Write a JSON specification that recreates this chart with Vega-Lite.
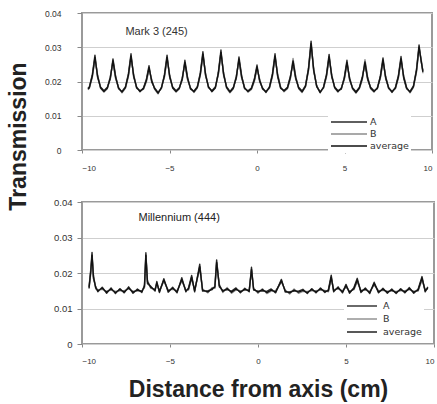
{
  "$schema": "https://vega.github.io/schema/vega-lite/v6.json",
  "config": {
    "font": "Liberation Sans",
    "view": {"stroke": "#9a9a9a", "strokeWidth": 2},
    "axis": {"labelColor": "#333", "tickColor": "#888", "gridColor": "#cfcfcf", "domain": false, "labelOverlap": false}
  },
  "padding": {"left": 5, "top": 8, "right": 2, "bottom": 3},
  "bounds": "flush",
  "spacing": 52,
  "resolve": {"scale": {"color": "independent", "strokeWidth": "independent"}, "legend": {"color": "independent"}},
  "datasets": {
    "mark3": [
      {"x":-9.66,"A":0.0180,"B":0.0176,"average":0.0178},
      {"x":-9.58,"A":0.0184,"B":0.0180,"average":0.0182},
      {"x":-9.41,"A":0.0220,"B":0.0212,"average":0.0216},
      {"x":-9.26,"A":0.0277,"B":0.0263,"average":0.0270},
      {"x":-9.11,"A":0.0212,"B":0.0220,"average":0.0216},
      {"x":-8.94,"A":0.0184,"B":0.0180,"average":0.0182},
      {"x":-8.745,"A":0.0173,"B":0.0169,"average":0.0171},
      {"x":-8.55,"A":0.0183,"B":0.0179,"average":0.0181},
      {"x":-8.38,"A":0.0208,"B":0.0216,"average":0.0212},
      {"x":-8.23,"A":0.0266,"B":0.0254,"average":0.0260},
      {"x":-8.08,"A":0.0216,"B":0.0208,"average":0.0212},
      {"x":-7.91,"A":0.0179,"B":0.0183,"average":0.0181},
      {"x":-7.715,"A":0.0171,"B":0.0167,"average":0.0169},
      {"x":-7.52,"A":0.0184,"B":0.0180,"average":0.0182},
      {"x":-7.35,"A":0.0222,"B":0.0214,"average":0.0218},
      {"x":-7.20,"A":0.0281,"B":0.0267,"average":0.0274},
      {"x":-7.05,"A":0.0214,"B":0.0222,"average":0.0218},
      {"x":-6.88,"A":0.0184,"B":0.0180,"average":0.0182},
      {"x":-6.685,"A":0.0170,"B":0.0174,"average":0.0172},
      {"x":-6.49,"A":0.0181,"B":0.0177,"average":0.0179},
      {"x":-6.32,"A":0.0207,"B":0.0199,"average":0.0203},
      {"x":-6.17,"A":0.0246,"B":0.0234,"average":0.0240},
      {"x":-6.02,"A":0.0199,"B":0.0207,"average":0.0203},
      {"x":-5.85,"A":0.0181,"B":0.0177,"average":0.0179},
      {"x":-5.655,"A":0.0168,"B":0.0164,"average":0.0166},
      {"x":-5.46,"A":0.0180,"B":0.0184,"average":0.0182},
      {"x":-5.29,"A":0.0220,"B":0.0212,"average":0.0216},
      {"x":-5.14,"A":0.0277,"B":0.0263,"average":0.0270},
      {"x":-4.99,"A":0.0212,"B":0.0220,"average":0.0216},
      {"x":-4.82,"A":0.0184,"B":0.0180,"average":0.0182},
      {"x":-4.625,"A":0.0173,"B":0.0169,"average":0.0171},
      {"x":-4.44,"A":0.0182,"B":0.0178,"average":0.0180},
      {"x":-4.27,"A":0.0205,"B":0.0213,"average":0.0209},
      {"x":-4.12,"A":0.0262,"B":0.0248,"average":0.0255},
      {"x":-3.97,"A":0.0213,"B":0.0205,"average":0.0209},
      {"x":-3.80,"A":0.0178,"B":0.0182,"average":0.0180},
      {"x":-3.605,"A":0.0172,"B":0.0168,"average":0.0170},
      {"x":-3.41,"A":0.0185,"B":0.0181,"average":0.0183},
      {"x":-3.24,"A":0.0225,"B":0.0217,"average":0.0221},
      {"x":-3.09,"A":0.0287,"B":0.0273,"average":0.0280},
      {"x":-2.94,"A":0.0217,"B":0.0225,"average":0.0221},
      {"x":-2.77,"A":0.0185,"B":0.0181,"average":0.0183},
      {"x":-2.575,"A":0.0170,"B":0.0174,"average":0.0172},
      {"x":-2.38,"A":0.0181,"B":0.0185,"average":0.0183},
      {"x":-2.21,"A":0.0227,"B":0.0219,"average":0.0223},
      {"x":-2.06,"A":0.0292,"B":0.0278,"average":0.0285},
      {"x":-1.91,"A":0.0219,"B":0.0227,"average":0.0223},
      {"x":-1.74,"A":0.0185,"B":0.0181,"average":0.0183},
      {"x":-1.545,"A":0.0171,"B":0.0167,"average":0.0169},
      {"x":-1.35,"A":0.0183,"B":0.0179,"average":0.0181},
      {"x":-1.18,"A":0.0210,"B":0.0218,"average":0.0214},
      {"x":-1.03,"A":0.0272,"B":0.0258,"average":0.0265},
      {"x":-0.88,"A":0.0218,"B":0.0210,"average":0.0214},
      {"x":-0.71,"A":0.0179,"B":0.0183,"average":0.0181},
      {"x":-0.515,"A":0.0173,"B":0.0169,"average":0.0171},
      {"x":-0.32,"A":0.0181,"B":0.0177,"average":0.0179},
      {"x":-0.15,"A":0.0208,"B":0.0200,"average":0.0204},
      {"x":0.0,"A":0.0248,"B":0.0236,"average":0.0242},
      {"x":0.15,"A":0.0200,"B":0.0208,"average":0.0204},
      {"x":0.32,"A":0.0181,"B":0.0177,"average":0.0179},
      {"x":0.515,"A":0.0168,"B":0.0172,"average":0.0170},
      {"x":0.71,"A":0.0184,"B":0.0180,"average":0.0182},
      {"x":0.88,"A":0.0222,"B":0.0214,"average":0.0218},
      {"x":1.03,"A":0.0281,"B":0.0267,"average":0.0274},
      {"x":1.18,"A":0.0214,"B":0.0222,"average":0.0218},
      {"x":1.35,"A":0.0180,"B":0.0184,"average":0.0182},
      {"x":1.545,"A":0.0174,"B":0.0170,"average":0.0172},
      {"x":1.74,"A":0.0183,"B":0.0179,"average":0.0181},
      {"x":1.91,"A":0.0216,"B":0.0208,"average":0.0212},
      {"x":2.06,"A":0.0253,"B":0.0267,"average":0.0260},
      {"x":2.21,"A":0.0208,"B":0.0216,"average":0.0212},
      {"x":2.38,"A":0.0183,"B":0.0179,"average":0.0181},
      {"x":2.575,"A":0.0172,"B":0.0168,"average":0.0170},
      {"x":2.77,"A":0.0188,"B":0.0184,"average":0.0186},
      {"x":2.94,"A":0.0238,"B":0.0230,"average":0.0234},
      {"x":3.09,"A":0.0318,"B":0.0302,"average":0.0310},
      {"x":3.24,"A":0.0230,"B":0.0238,"average":0.0234},
      {"x":3.41,"A":0.0188,"B":0.0184,"average":0.0186},
      {"x":3.605,"A":0.0167,"B":0.0171,"average":0.0169},
      {"x":3.80,"A":0.0184,"B":0.0180,"average":0.0182},
      {"x":3.97,"A":0.0221,"B":0.0213,"average":0.0217},
      {"x":4.12,"A":0.0279,"B":0.0265,"average":0.0272},
      {"x":4.27,"A":0.0213,"B":0.0221,"average":0.0217},
      {"x":4.44,"A":0.0184,"B":0.0180,"average":0.0182},
      {"x":4.625,"A":0.0173,"B":0.0169,"average":0.0171},
      {"x":4.82,"A":0.0178,"B":0.0182,"average":0.0180},
      {"x":4.99,"A":0.0213,"B":0.0205,"average":0.0209},
      {"x":5.14,"A":0.0262,"B":0.0248,"average":0.0255},
      {"x":5.29,"A":0.0205,"B":0.0213,"average":0.0209},
      {"x":5.46,"A":0.0182,"B":0.0178,"average":0.0180},
      {"x":5.655,"A":0.0170,"B":0.0166,"average":0.0168},
      {"x":5.85,"A":0.0183,"B":0.0179,"average":0.0181},
      {"x":6.02,"A":0.0214,"B":0.0206,"average":0.0210},
      {"x":6.17,"A":0.0250,"B":0.0264,"average":0.0257},
      {"x":6.32,"A":0.0206,"B":0.0214,"average":0.0210},
      {"x":6.49,"A":0.0183,"B":0.0179,"average":0.0181},
      {"x":6.685,"A":0.0173,"B":0.0169,"average":0.0171},
      {"x":6.88,"A":0.0179,"B":0.0183,"average":0.0181},
      {"x":7.05,"A":0.0217,"B":0.0209,"average":0.0213},
      {"x":7.20,"A":0.0269,"B":0.0255,"average":0.0262},
      {"x":7.35,"A":0.0209,"B":0.0217,"average":0.0213},
      {"x":7.52,"A":0.0183,"B":0.0179,"average":0.0181},
      {"x":7.715,"A":0.0168,"B":0.0172,"average":0.0170},
      {"x":7.91,"A":0.0183,"B":0.0179,"average":0.0181},
      {"x":8.08,"A":0.0218,"B":0.0210,"average":0.0214},
      {"x":8.23,"A":0.0273,"B":0.0259,"average":0.0266},
      {"x":8.38,"A":0.0210,"B":0.0218,"average":0.0214},
      {"x":8.55,"A":0.0179,"B":0.0183,"average":0.0181},
      {"x":8.745,"A":0.0171,"B":0.0167,"average":0.0169},
      {"x":8.94,"A":0.0187,"B":0.0183,"average":0.0185},
      {"x":9.11,"A":0.0234,"B":0.0226,"average":0.0230},
      {"x":9.26,"A":0.0307,"B":0.0293,"average":0.0300},
      {"x":9.38,"A":0.0258,"B":0.0266,"average":0.0262},
      {"x":9.48,"A":0.0232,"B":0.0224,"average":0.0228}
    ],
    "millennium": [
      {"x":-9.60,"A":0.0161,"B":0.0155,"average":0.0158},
      {"x":-9.50,"A":0.0211,"B":0.0199,"average":0.0205},
      {"x":-9.43,"A":0.0258,"B":0.0242,"average":0.0250},
      {"x":-9.35,"A":0.0184,"B":0.0196,"average":0.0190},
      {"x":-9.22,"A":0.0161,"B":0.0155,"average":0.0158},
      {"x":-9.10,"A":0.0147,"B":0.0153,"average":0.0150},
      {"x":-8.85,"A":0.0160,"B":0.0154,"average":0.0157},
      {"x":-8.60,"A":0.0143,"B":0.0149,"average":0.0146},
      {"x":-8.35,"A":0.0158,"B":0.0152,"average":0.0155},
      {"x":-8.10,"A":0.0142,"B":0.0148,"average":0.0145},
      {"x":-7.85,"A":0.0156,"B":0.0150,"average":0.0153},
      {"x":-7.60,"A":0.0144,"B":0.0150,"average":0.0147},
      {"x":-7.35,"A":0.0161,"B":0.0155,"average":0.0158},
      {"x":-7.10,"A":0.0143,"B":0.0149,"average":0.0146},
      {"x":-6.85,"A":0.0155,"B":0.0149,"average":0.0152},
      {"x":-6.60,"A":0.0145,"B":0.0151,"average":0.0148},
      {"x":-6.45,"A":0.0166,"B":0.0158,"average":0.0162},
      {"x":-6.37,"A":0.0257,"B":0.0243,"average":0.0250},
      {"x":-6.28,"A":0.0170,"B":0.0180,"average":0.0175},
      {"x":-6.10,"A":0.0163,"B":0.0157,"average":0.0160},
      {"x":-5.85,"A":0.0149,"B":0.0155,"average":0.0152},
      {"x":-5.75,"A":0.0176,"B":0.0168,"average":0.0172},
      {"x":-5.60,"A":0.0145,"B":0.0151,"average":0.0148},
      {"x":-5.35,"A":0.0184,"B":0.0176,"average":0.0180},
      {"x":-5.10,"A":0.0146,"B":0.0152,"average":0.0149},
      {"x":-4.85,"A":0.0160,"B":0.0154,"average":0.0157},
      {"x":-4.60,"A":0.0144,"B":0.0150,"average":0.0147},
      {"x":-4.33,"A":0.0187,"B":0.0177,"average":0.0182},
      {"x":-4.10,"A":0.0147,"B":0.0153,"average":0.0150},
      {"x":-3.95,"A":0.0158,"B":0.0152,"average":0.0155},
      {"x":-3.77,"A":0.0193,"B":0.0183,"average":0.0188},
      {"x":-3.60,"A":0.0147,"B":0.0153,"average":0.0150},
      {"x":-3.31,"A":0.0225,"B":0.0211,"average":0.0218},
      {"x":-3.15,"A":0.0149,"B":0.0155,"average":0.0152},
      {"x":-2.85,"A":0.0150,"B":0.0144,"average":0.0147},
      {"x":-2.60,"A":0.0153,"B":0.0159,"average":0.0156},
      {"x":-2.45,"A":0.0163,"B":0.0157,"average":0.0160},
      {"x":-2.35,"A":0.0237,"B":0.0223,"average":0.0230},
      {"x":-2.20,"A":0.0161,"B":0.0169,"average":0.0165},
      {"x":-2.00,"A":0.0151,"B":0.0145,"average":0.0148},
      {"x":-1.75,"A":0.0153,"B":0.0159,"average":0.0156},
      {"x":-1.50,"A":0.0149,"B":0.0143,"average":0.0146},
      {"x":-1.25,"A":0.0158,"B":0.0152,"average":0.0155},
      {"x":-1.00,"A":0.0144,"B":0.0150,"average":0.0147},
      {"x":-0.75,"A":0.0157,"B":0.0151,"average":0.0154},
      {"x":-0.50,"A":0.0147,"B":0.0153,"average":0.0150},
      {"x":-0.37,"A":0.0216,"B":0.0204,"average":0.0210},
      {"x":-0.25,"A":0.0152,"B":0.0158,"average":0.0155},
      {"x":0.00,"A":0.0149,"B":0.0143,"average":0.0146},
      {"x":0.25,"A":0.0150,"B":0.0156,"average":0.0153},
      {"x":0.50,"A":0.0148,"B":0.0142,"average":0.0145},
      {"x":0.75,"A":0.0155,"B":0.0149,"average":0.0152},
      {"x":1.00,"A":0.0144,"B":0.0150,"average":0.0147},
      {"x":1.33,"A":0.0182,"B":0.0174,"average":0.0178},
      {"x":1.55,"A":0.0146,"B":0.0152,"average":0.0149},
      {"x":1.80,"A":0.0147,"B":0.0141,"average":0.0144},
      {"x":2.05,"A":0.0149,"B":0.0155,"average":0.0152},
      {"x":2.30,"A":0.0149,"B":0.0143,"average":0.0146},
      {"x":2.55,"A":0.0154,"B":0.0148,"average":0.0151},
      {"x":2.80,"A":0.0142,"B":0.0148,"average":0.0145},
      {"x":3.05,"A":0.0156,"B":0.0150,"average":0.0153},
      {"x":3.30,"A":0.0144,"B":0.0150,"average":0.0147},
      {"x":3.55,"A":0.0158,"B":0.0152,"average":0.0155},
      {"x":3.80,"A":0.0145,"B":0.0151,"average":0.0148},
      {"x":4.00,"A":0.0153,"B":0.0147,"average":0.0150},
      {"x":4.16,"A":0.0194,"B":0.0182,"average":0.0188},
      {"x":4.30,"A":0.0147,"B":0.0153,"average":0.0150},
      {"x":4.55,"A":0.0161,"B":0.0155,"average":0.0158},
      {"x":4.80,"A":0.0144,"B":0.0150,"average":0.0147},
      {"x":5.00,"A":0.0168,"B":0.0160,"average":0.0164},
      {"x":5.20,"A":0.0143,"B":0.0149,"average":0.0146},
      {"x":5.45,"A":0.0159,"B":0.0153,"average":0.0156},
      {"x":5.64,"A":0.0185,"B":0.0175,"average":0.0180},
      {"x":5.85,"A":0.0145,"B":0.0151,"average":0.0148},
      {"x":6.10,"A":0.0158,"B":0.0152,"average":0.0155},
      {"x":6.35,"A":0.0142,"B":0.0148,"average":0.0145},
      {"x":6.60,"A":0.0174,"B":0.0166,"average":0.0170},
      {"x":6.85,"A":0.0144,"B":0.0150,"average":0.0147},
      {"x":7.10,"A":0.0157,"B":0.0151,"average":0.0154},
      {"x":7.35,"A":0.0143,"B":0.0149,"average":0.0146},
      {"x":7.60,"A":0.0155,"B":0.0149,"average":0.0152},
      {"x":7.85,"A":0.0142,"B":0.0148,"average":0.0145},
      {"x":8.10,"A":0.0156,"B":0.0150,"average":0.0153},
      {"x":8.35,"A":0.0144,"B":0.0150,"average":0.0147},
      {"x":8.60,"A":0.0159,"B":0.0153,"average":0.0156},
      {"x":8.85,"A":0.0143,"B":0.0149,"average":0.0146},
      {"x":9.10,"A":0.0155,"B":0.0149,"average":0.0152},
      {"x":9.32,"A":0.0190,"B":0.0180,"average":0.0185},
      {"x":9.50,"A":0.0147,"B":0.0153,"average":0.0150},
      {"x":9.65,"A":0.0161,"B":0.0155,"average":0.0158}
    ]
  },
  "vconcat": [
    {
      "width": 350,
      "height": 137,
      "encoding": {
        "x": {"field": "x", "type": "quantitative", "scale": {"domain": [-10, 10]},
              "axis": {"values": [-10, -5, 0, 5, 10], "format": "d", "title": null, "grid": false,
                       "tickSize": 3, "labelFontSize": 8, "labelPadding": 11}},
        "y": {"field": "t", "type": "quantitative", "scale": {"domain": [0, 0.04]},
              "axis": {"values": [0, 0.01, 0.02, 0.03, 0.04],
                       "labelExpr": "datum.value === 0 ? '0' : format(datum.value, '.2f')",
                       "grid": true, "tickSize": 5, "labelFontSize": 8.5, "labelPadding": 16,
                       "title": "Transmission", "titleFontSize": 23, "titleFontWeight": "bold",
                       "titleColor": "#222", "titleX": -52, "titleY": 123}}
      },
      "layer": [
        {
          "data": {"name": "mark3"},
          "transform": [{"fold": ["A", "B", "average"], "as": ["series", "t"]}],
          "mark": {"type": "line", "strokeJoin": "round"},
          "encoding": {
            "color": {"field": "series", "type": "nominal",
                      "scale": {"domain": ["A", "B", "average"], "range": ["#2a2a2a", "#8c8c8c", "#111111"]},
                      "legend": {"title": null, "orient": "none", "legendX": 246, "legendY": 101,
                                 "fillColor": "white", "padding": 2,
                                 "labelFont": "DejaVu Sans", "labelFontSize": 9.5, "labelColor": "#333",
                                 "symbolType": "M-3.6,0H3.6", "symbolSize": 100, "symbolOffset": 13,
                                 "symbolStrokeWidth": 1.3, "rowPadding": 1, "labelOffset": 15}},
            "strokeWidth": {"field": "series", "type": "nominal",
                            "scale": {"domain": ["A", "B", "average"], "range": [1.4, 1.4, 2]},
                            "legend": null}
          }
        },
        {
          "data": {"values": [{"x": -5.74, "t": 0.0345, "label": "Mark 3 (245)"}]},
          "mark": {"type": "text", "fontSize": 11, "color": "#333"},
          "encoding": {"text": {"field": "label"}}
        }
      ]
    },
    {
      "width": 352,
      "height": 142,
      "encoding": {
        "x": {"field": "x", "type": "quantitative", "scale": {"domain": [-10, 10]},
              "axis": {"values": [-10, -5, 0, 5, 10], "format": "d", "grid": false,
                       "tickSize": 3, "labelFontSize": 8, "labelPadding": 10,
                       "title": "Distance from axis (cm)", "titleFontSize": 23, "titleFontWeight": "bold",
                       "titleColor": "#222", "titlePadding": 13}},
        "y": {"field": "t", "type": "quantitative", "scale": {"domain": [0, 0.04]},
              "axis": {"values": [0, 0.01, 0.02, 0.03, 0.04],
                       "labelExpr": "datum.value === 0 ? '0' : format(datum.value, '.2f')",
                       "grid": true, "tickSize": 5, "labelFontSize": 9.5, "labelPadding": 5,
                       "title": null}}
      },
      "layer": [
        {
          "data": {"name": "millennium"},
          "transform": [{"fold": ["A", "B", "average"], "as": ["series", "t"]}],
          "mark": {"type": "line", "strokeJoin": "round"},
          "encoding": {
            "color": {"field": "series", "type": "nominal",
                      "scale": {"domain": ["A", "B", "average"], "range": ["#2a2a2a", "#8c8c8c", "#111111"]},
                      "legend": {"title": null, "orient": "none", "legendX": 262, "legendY": 96,
                                 "fillColor": "white", "padding": 2,
                                 "labelFont": "DejaVu Sans", "labelFontSize": 9.5, "labelColor": "#333",
                                 "symbolType": "M-3,0H3", "symbolSize": 100, "symbolOffset": 10,
                                 "symbolStrokeWidth": 1.3, "rowPadding": 2, "labelOffset": 15}},
            "strokeWidth": {"field": "series", "type": "nominal",
                            "scale": {"domain": ["A", "B", "average"], "range": [1.4, 1.4, 2]},
                            "legend": null}
          }
        },
        {
          "data": {"values": [{"x": -4.48, "t": 0.0354, "label": "Millennium (444)"}]},
          "mark": {"type": "text", "fontSize": 11, "color": "#222"},
          "encoding": {"text": {"field": "label"}}
        }
      ]
    }
  ]
}
